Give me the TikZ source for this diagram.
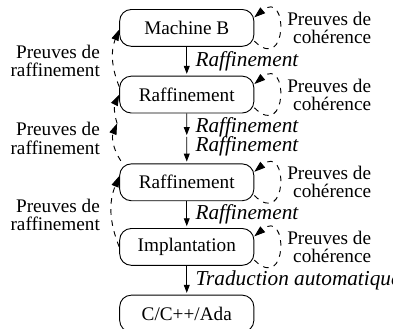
\documentclass[tikz,border=0pt]{standalone}
\usepackage{fontspec}
\setmainfont{Liberation Serif}
\usetikzlibrary{positioning}
\usetikzlibrary{calc}
\usetikzlibrary{arrows.meta}

\begin{document}
\begin{tikzpicture}[font=\fontsize{10.4}{9.8}\selectfont,
	etape/.style={draw, rounded corners=0.22cm, minimum width=2.55cm, minimum height=0.70cm, line width=0.5pt},
	raff/.style={-{Triangle[length=1.5mm,width=1.1mm]}, line width=0.5pt, shorten >=1pt},
	preuve/.style={dashed, line width=0.5pt, -{Triangle[length=2.1mm,width=1.4mm]}},
	lbl/.style={font=\fontsize{11.5}{11}\selectfont\itshape, inner sep=2.5pt, xshift=2pt},
	txt/.style={align=right, inner sep=0pt}]
\useasboundingbox (0,0) rectangle (7.47,-6.25);

\node[etape] (MB) at (3.55,-0.53) {Machine B};
\node[etape, below=0.55cm of MB] (R1) {Raffinement};
\node[etape, below=0.95cm of R1] (R2) {Raffinement};
\node[etape, below=0.51cm of R2] (IMP) {Implantation};
\node[etape, below=0.55cm of IMP] (ADA) {C/C++/Ada};

% etape intermediaire
\coordinate (M) at ($(R1.south)!0.47!(R2.north)$);
\coordinate (ML) at ($(R1.south west)!0.2!(R2.north west)+(-0.04,0)$);

\draw[raff] (MB) -- (R1) node[lbl,right,midway] {Raffinement};
\draw[raff] (R1) -- (M) node[lbl,right,pos=0.6] {Raffinement};
\draw[raff] (M) -- (R2) node[lbl,right,pos=0.35] {Raffinement};
\draw[raff] (R2) -- (IMP) node[lbl,right,midway] {Raffinement};
\draw[raff] (IMP) -- (ADA) node[lbl,right,midway] {Traduction automatique};

% preuves de raffinement
\draw[preuve] ([yshift=0.15cm]R1.west) to[bend left=22] ([yshift=-0.03cm]MB.west);
\draw[preuve] ([xshift=0.03cm,yshift=0.05cm]R2.north west) to[bend left=28] (ML);
\draw[preuve] (ML) to[bend left=22] (R1.west);
\draw[preuve] (IMP.west) to[bend left=22] ([yshift=0.12cm]R2.west);

\node[txt, anchor=east] at ($(MB.south west)!0.5!(R1.north west)+(-0.36,0)$) {Preuves de\\raffinement};
\node[txt, anchor=east] at ($(R1.south west)!0.5!(R2.north west)+(-0.36,0)$) {Preuves de\\raffinement};
\node[txt, anchor=east] at ($(R2.south west)!0.5!(IMP.north west)+(-0.36,0)$) {Preuves de\\raffinement};

% preuves de coherence
\foreach \b in {MB,R1,R2,IMP}{
	\draw[preuve] ([yshift=-0.25cm]\b.east) .. controls +(-45:0.9) and +(40:0.85) .. ([yshift=0.2cm]\b.east);
	\node[txt, right=0.62cm of \b] {Preuves de\\cohérence};
}
\end{tikzpicture}
\end{document}
